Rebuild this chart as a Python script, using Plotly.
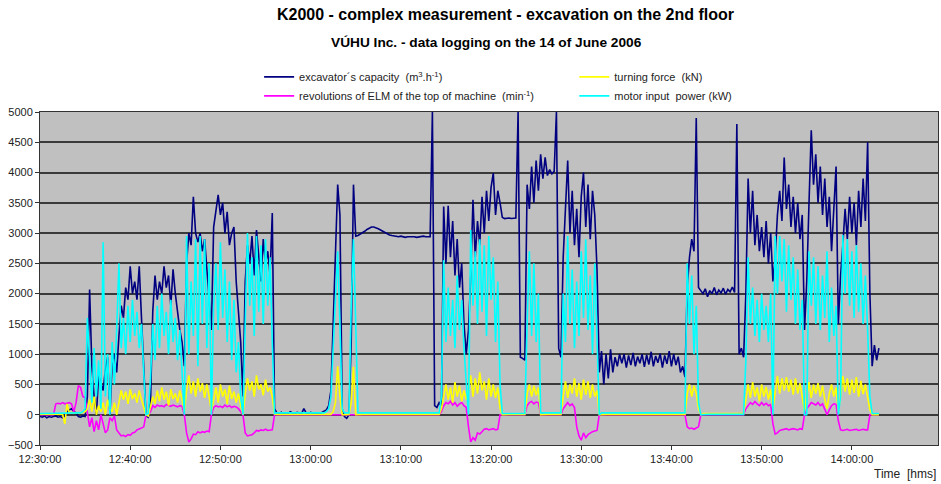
import pandas as pd
import plotly.graph_objects as go

# ---------------- data ----------------
LOG_START = "2006-06-14 12:30:00"
LOG_INTERVAL = "15s"          # logger sampling interval

capacity = [
    -30, -40, -20, -50, -30, -40, -30, -20, -40, -30,
    -50, -20, 40, 80, 100, 50, 30, -30, -40, -20,
    -30, 300, 2070, 800, 300, 0, 650, 500, 400, 750,
    950, 0, 850, 1000, 700, 1300, 1800, 1600, 2100, 1900,
    2450, 2000, 2200, 1900, 2450, 1600, 900, -20, -40, 200,
    1700, 2300, 1900, 2200, 2000, 2450, 2100, 2300, 1800, 2400,
    2000, 1700, 1400, 1200, 800, 2500, 3000, 2800, 3600, 3000,
    2850, 3000, 2700, 2900, 2400, 2000, 1400, 3100, 3400, 3630,
    3300, 3500, 3000, 3350, 2800, 3000, 3100, 2200, 1700, 1200,
    300, 2200, 2800, 2500, 2950, 2300, 3050, 2600, 2200, 2900,
    2500, 2700, 2300, 3330, 100, 30, 20, 40, 10, 30,
    20, 50, 30, 10, 40, 30, 20, 100, 30, 20,
    40, 30, 20, 30, 10, 40, 60, 80, 150, 400,
    1500, 2800, 3800, 3300, 100, -30, -60, 0, 1200, 3800,
    2950, 2960, 2980, 3000, 3030, 3060, 3080, 3100, 3100, 3090,
    3070, 3050, 3030, 3000, 2990, 2970, 2960, 2950, 2940, 2940,
    2950, 2940, 2930, 2940, 2940, 2950, 2940, 2930, 2940, 2940,
    2950, 2940, 2940, 2940, 5000, 150, 120, 200, 150, 3440,
    2500, 3450, 2600, 3200, 2300, 2900, 2100, 2500, 1500, 1000,
    1400, 2300, 3550, 2600, 3200, 2800, 3600, 3000, 3700, 3200,
    3750, 3990, 3300, 3700, 3500, 3260, 3240, 3250, 3250, 3240,
    3250, 3250, 5000, 950, 930, 900, 3800, 3400, 4100, 3500,
    4200, 3700, 4300, 3900, 4250, 3950, 4050, 3980, 4020, 5000,
    1100, 950, 2600, 3500, 4200, 3000, 3700, 2800, 3400, 2600,
    3600, 4000, 3100, 3800, 2900, 3700, 3300, 2400, 700, 1050,
    500, 1000, 600, 1080, 700, 950, 800, 1000, 850, 1000,
    780, 980, 820, 1020, 800, 960, 850, 1000, 790, 990,
    830, 1040, 800, 970, 860, 1010, 780, 980, 840, 1050,
    800, 1000, 820, 960, 700, 800, 620, 2100, 2600, 2900,
    2700, 4900, 2100, 2050, 2000, 2080, 1950, 2050, 2000, 2100,
    1980, 2060, 2010, 2090, 1990, 2070, 2030, 2110, 2020, 4800,
    1000, 1100, 950, 2000, 3900, 3000, 3700, 2800, 3300, 2700,
    3100, 2600, 3200, 2500, 3000, 2200, 2600, 3300, 3700, 3200,
    4250, 3400, 3800, 3100, 3600, 3000, 3500, 2900, 3300, 1400,
    2200, 3500, 4700, 3800, 4300, 3500, 4100, 3300, 3900, 3100,
    3600, 2700, 3300, 4100, 1500, 2300, 2800, 3400, 2900, 3600,
    3000, 3500, 2800, 3700, 3100, 3900, 3200, 4500, 2000, 800,
    1150, 900, 1100,
]

revolutions = [
    0, 0, 0, 0, 0, 0, 0, 180, 190, 180,
    200, 180, 190, 200, 180, 50, 200, 480, 450, 300,
    280, 0, -200, -50, -280, -100, -250, 0, -150, -300,
    -250, -50, -100, -20, -250, -300, -350, -340, -360, -330,
    -340, -300, -290, -250, -240, -220, -200, 0, 0, 50,
    150, 120, 160, 140, 150, 130, 170, 150, 140, 160,
    150, 130, 150, 140, 0, -300, -450, -400, -320, -330,
    -280, -300, -280, -290, -270, -280, 0, 120, 150, 130,
    140, 120, 160, 130, 150, 120, 140, 130, 100, 50,
    0, -300, -350, -340, -330, -300, -260, -270, -250, -260,
    -240, -260, -250, -250, 0, 0, 0, 0, 0, 0,
    0, 0, 0, 0, 0, 0, 0, 0, 0, 0,
    0, 0, 0, 0, 0, 0, 0, 0, 0, 0,
    0, 0, 0, 0, 0, 0, 0, 0, 0, 0,
    0, 0, 0, 0, 0, 0, 0, 0, 0, 0,
    0, 0, 0, 0, 0, 0, 0, 0, 0, 0,
    0, 0, 0, 0, 0, 0, 0, 0, 0, 0,
    0, 0, 0, 0, 0, 0, 0, 0, 50, 150,
    200, 180, 220, 160, 200, 140, 180, 200, 150, 120,
    -200, -450, -380, -420, -300, -320, -280, -240, -230, -250,
    -240, -230, -250, -240, 0, 0, 0, 0, 0, 0,
    0, 0, 0, 0, 0, 0, 150, 200, 220, 180,
    210, 200, 0, 0, 0, 0, 0, 0, 0, 0,
    0, 0, 100, 150, 200, 150, 180, 120, -200, -350,
    -420, -300, -380, -330, -300, -280, -270, -260, 0, 0,
    0, 0, 0, 0, 0, 0, 0, 0, 0, 0,
    0, 0, 0, 0, 0, 0, 0, 0, 0, 0,
    0, 0, 0, 0, 0, 0, 0, 0, 0, 0,
    0, 0, 0, 0, 0, 0, 0, -200, -230, -220,
    -240, -220, -200, 0, 0, 0, 0, 0, 0, 0,
    0, 0, 0, 0, 0, 0, 0, 0, 0, 0,
    0, 0, 0, 100, 150, 200, 170, 220, 180, 150,
    200, 160, 190, 150, 170, -150, -320, -300, -260, -250,
    -240, -230, -250, -240, -230, -240, -250, -230, -240, 0,
    100, 150, 200, 180, 160, 200, 150, 180, 100, 0,
    80, 150, 180, 170, -100, -250, -260, -250, -240, -260,
    -250, -250, -240, -260, -250, -240, -250, -250, 0, 0,
    0, 0, 0,
]

turning_force = [
    10, 10, 10, 10, 10, 10, 10, 10, 10, 10,
    10, -150, 180, 30, 40, 30, 30, 20, 30, 40,
    50, 100, 250, 50, 300, 0, 150, 50, 200, 0,
    250, 100, 50, 200, 0, 200, 400, 250, 380, 180,
    420, 260, 350, 200, 400, 250, 100, 0, -20, 150,
    300, 180, 400, 220, 450, 250, 380, 150, 420, 260,
    350, 200, 400, 250, 50, 400, 650, 350, 550, 300,
    600, 380, 520, 280, 500, 300, 50, 250, 450, 200,
    500, 300, 420, 180, 480, 260, 380, 200, 350, 150,
    0, 350, 600, 400, 550, 300, 650, 420, 500, 320,
    580, 380, 450, 300, 10, 5, 5, 5, 5, 5,
    5, 5, 5, 5, 5, 5, 5, 5, 5, 5,
    5, 5, 5, 5, 5, 5, 5, 5, 5, 5,
    50, 200, 800, 300, 0, 5, 5, 5, 200, 790,
    0, 5, 5, 5, 5, 5, 5, 5, 5, 5,
    5, 5, 5, 5, 5, 5, 5, 5, 5, 5,
    5, 5, 5, 5, 5, 5, 5, 5, 5, 5,
    5, 5, 5, 5, 5, 5, 5, 5, 100, 300,
    500, 250, 450, 200, 540, 300, 480, 220, 400, 250,
    400, 650, 300, 600, 350, 700, 400, 550, 250, 600,
    300, 500, 280, 450, 100, 0, 5, 5, 5, 5,
    5, 5, 5, 5, 5, 5, 350, 500, 300, 480,
    320, 450, 0, 5, 5, 5, 5, 5, 5, 5,
    5, 5, 300, 550, 280, 500, 350, 600, 300, 520,
    250, 580, 330, 550, 280, 500, 300, 400, 0, 5,
    5, 5, 5, 5, 5, 5, 5, 5, 5, 5,
    5, 5, 5, 5, 5, 5, 5, 5, 5, 5,
    5, 5, 5, 5, 5, 5, 5, 5, 5, 5,
    5, 5, 5, 5, 5, 5, 5, 350, 500, 300,
    480, 350, 100, 0, 20, 20, 20, 20, 20, 20,
    20, 20, 20, 20, 20, 20, 20, 20, 20, 20,
    20, 20, 20, 250, 500, 280, 540, 300, 450, 220,
    500, 300, 460, 250, 420, 100, 400, 640, 350, 600,
    400, 620, 380, 580, 330, 600, 350, 520, 300, 50,
    300, 540, 280, 500, 350, 520, 300, 480, 250, 100,
    350, 500, 300, 450, 50, 300, 640, 380, 600, 330,
    580, 360, 620, 300, 560, 340, 500, 280, 80, 0,
    0, 0, 0,
]

motor_power = [
    20, 20, 20, 20, 20, 20, 20, 20, 20, 20,
    20, 20, 20, 20, 20, 20, 20, 20, 30, 50,
    100, 1600, 800, 200, 1100, 300, 900, 100, 2850, 300,
    1000, 0, 1200, 500, 1400, 2500, 1100, 1600, 1000, 1800,
    1200, 1900, 1300, 1700, 1100, 1500, 700, 0, 20, 600,
    1500, 900, 1800, 1100, 2000, 1300, 1700, 1000, 1900, 1200,
    1600, 900, 1400, 600, 0, 2950, 1000, 2200, 1300, 2900,
    800, 2950, 1500, 2900, 1100, 2500, 0, 1800, 2500, 1400,
    2850, 1600, 2400, 1200, 2200, 900, 1900, 700, 1200, 300,
    0, 1500, 3000, 1800, 2600, 1300, 2950, 1700, 2800, 1500,
    2900, 1800, 2600, 1200, 20, 30, 30, 30, 30, 30,
    30, 30, 30, 30, 30, 30, 30, 30, 30, 30,
    30, 30, 30, 30, 30, 30, 30, 50, 100, 300,
    1200, 2000, 2700, 1500, 100, 30, 30, 30, 1800, 2900,
    1500, 30, 30, 30, 30, 30, 30, 30, 30, 30,
    30, 30, 30, 30, 30, 30, 30, 30, 30, 30,
    30, 30, 30, 30, 30, 30, 30, 30, 30, 30,
    30, 30, 30, 30, 30, 30, 30, 30, 300, 2550,
    1200, 2100, 1300, 1900, 1100, 2300, 1400, 1900, 1100, 600,
    0, 3050, 1800, 2700, 1500, 2900, 1700, 2800, 1300, 2950,
    1900, 2600, 1200, 2200, 500, 20, 20, 20, 20, 20,
    20, 20, 20, 20, 20, 20, 1500, 2700, 1300, 2500,
    1200, 2000, 30, 30, 30, 30, 30, 30, 30, 30,
    30, 30, 2000, 1200, 2950, 1500, 2400, 1100, 2200, 1300,
    2700, 1600, 2900, 1400, 2300, 1000, 2500, 1200, 0, 30,
    30, 30, 30, 30, 30, 30, 30, 30, 30, 30,
    30, 30, 30, 30, 30, 30, 30, 30, 30, 30,
    30, 30, 30, 30, 30, 30, 30, 30, 30, 30,
    30, 30, 30, 30, 30, 30, 30, 2500, 1500, 2300,
    1000, 1800, 200, 0, 5, 5, 5, 5, 5, 5,
    5, 5, 5, 5, 5, 5, 5, 5, 5, 5,
    5, 5, 5, 900, 2600, 1500, 2100, 1300, 1900, 1200,
    2000, 1400, 1800, 1200, 2000, 0, 2950, 2000, 2950, 2200,
    2900, 1700, 2800, 1900, 2600, 1500, 2400, 1400, 1900, 0,
    0, 2700, 1800, 2600, 1500, 2450, 1400, 2300, 1600, 2700,
    1200, 2100, 1300, 1800, 0, 300, 2970, 2000, 2900, 1800,
    2700, 1600, 2800, 1700, 2500, 1500, 2300, 1400, 300, 20,
    20, 20, 20,
]

series_names = [
    "excavator\u00b4s capacity\u00a0\u00a0(m<sup>3</sup>.h<sup>-1</sup>)",
    "revolutions of ELM of the top of machine\u00a0\u00a0(min<sup>-1</sup>)",
    "turning force\u00a0\u00a0(kN)",
    "motor input\u00a0\u00a0power (kW)",
]
series_colors = ["#000080", "#ff00ff", "#ffff00", "#00ffff"]
series_legend = ["legend", "legend", "legend2", "legend2"]

x_range = ["2006-06-14 12:30:00", "2006-06-14 14:09:33"]
y_range = [-500, 5000]
y_step = 500

# ---------------- figure ----------------
FONT = "Liberation Sans, Arial, sans-serif"
fig = go.Figure()
for name, vals, col, lg in zip(series_names,
                               [capacity, revolutions, turning_force, motor_power],
                               series_colors, series_legend):
    t = pd.date_range(LOG_START, periods=len(vals), freq=LOG_INTERVAL)
    fig.add_trace(go.Scatter(x=t, y=vals, mode="lines", name=name,
                             line=dict(color=col, width=1.6), legend=lg))

fig.update_layout(
    width=941, height=484,
    margin=dict(l=40, r=3, t=112, b=39),
    paper_bgcolor="white", plot_bgcolor="#c0c0c0",
    font=dict(family=FONT, size=11, color="#222"),
    showlegend=True,
    legend=dict(x=0.244, y=1.149, xanchor="left", yanchor="top",
                bgcolor="rgba(0,0,0,0)", font=dict(size=11), tracegroupgap=0,
                itemwidth=30),
    legend2=dict(x=0.595, y=1.149, xanchor="left", yanchor="top",
                 bgcolor="rgba(0,0,0,0)", font=dict(size=11), tracegroupgap=0,
                 itemwidth=30),
    annotations=[
        dict(text="<b>K2000 - complex measurement - excavation on the 2nd floor</b>",
             xref="paper", yref="paper", x=0.518, y=1.292, xanchor="center",
             yanchor="middle", showarrow=False, font=dict(size=16, color="#000")),
        dict(text="<b>V\u00daHU Inc. - data logging on the 14 of June 2006</b>",
             xref="paper", yref="paper", x=0.4967, y=1.208, xanchor="center",
             yanchor="middle", showarrow=False, font=dict(size=13.7, color="#000")),
        dict(text="Time\u00a0\u00a0[hms]", xref="paper", yref="paper", x=1.0,
             y=-0.087, xanchor="right", yanchor="middle", showarrow=False,
             font=dict(size=12, color="#222")),
    ],
)
fig.update_xaxes(range=x_range, type="date", tickformat="%H:%M:%S",
                 dtick=600000, tick0="2006-06-14 12:30:00",
                 showgrid=False, showline=True, mirror=True,
                 linecolor="#333", linewidth=1, ticks="outside", ticklen=4,
                 tickcolor="#333", tickfont=dict(size=11, color="#222"))
fig.update_yaxes(range=y_range, dtick=y_step, tick0=0, showgrid=True,
                 gridcolor="#3a3a3a", gridwidth=1.5, zeroline=True,
                 zerolinecolor="#3a3a3a", zerolinewidth=1.5,
                 showline=True, mirror=True, linecolor="#333", linewidth=1,
                 ticks="outside", ticklen=4, tickcolor="#333",
                 tickfont=dict(size=11, color="#222"))

fig.write_html("out.html")
